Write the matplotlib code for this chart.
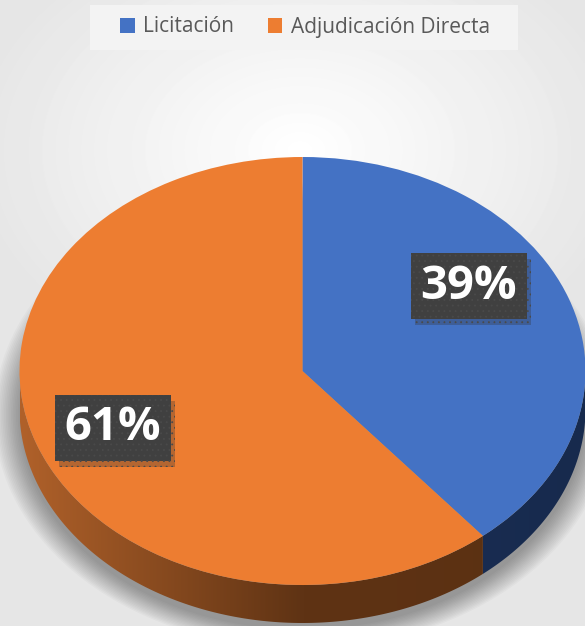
import matplotlib.pyplot as plt
import numpy as np
from matplotlib.patches import Polygon, Ellipse, Rectangle
from matplotlib.colors import LinearSegmentedColormap
import matplotlib.patheffects as pe

# datos
categorias = ['Licitación', 'Adjudicación Directa']
porcentajes = [39, 61]
etiquetas = ['39%', '61%']
colores = ['#4472C4', '#ED7D31']
# color del canto: izquierda -> centro -> derecha
colores_lado = [['#24406F', '#1B2F57', '#172A4D'],
                ['#B0612A', '#5F3314', '#5A3012']]

plt.rcParams['hatch.linewidth'] = 0.6

W, H = 585, 626
cx, cy = 302.5, 371      # centro de la tapa en pixeles (desde arriba)
rx, ry = 283, 214        # semiejes de la elipse
prof = 38 / ry           # espesor del pastel

fig = plt.figure(figsize=(W / 100, H / 100), dpi=100)
ax = fig.add_axes([0, 0, 1, 1])
x0, x1 = -cx / rx, (W - cx) / rx
y0, y1 = -(H - cy) / ry, cy / ry

# fondo gris claro con degradado radial
yy, xx = np.mgrid[0:H, 0:W]
d = np.hypot(xx - 300, (yy - 150) * 1.4) / 330
fondo = 1.0 - 0.10 * np.clip(d, 0, 1)
ax.imshow(fondo, cmap='gray', vmin=0, vmax=1, extent=(x0, x1, y0, y1),
          aspect='auto', zorder=0, interpolation='bilinear')

# sombra difusa debajo del pastel
for s in np.linspace(1.09, 1.0, 16):
    ax.add_patch(Ellipse((0.0, -prof - 0.03), 2 * s, 2 * s,
                         color='black', alpha=0.022, lw=0, zorder=1))

# tapa del pastel
wedges, _ = ax.pie(porcentajes, colors=colores, startangle=90, counterclock=False,
                   wedgeprops=dict(linewidth=0, zorder=4))

# canto (parte visible de cada porcion)
for w, cl in zip(wedges, colores_lado):
    a = np.radians(np.linspace(w.theta1, w.theta2, 600))
    a = a[np.sin(a) < 0]
    if len(a) == 0:
        continue
    top = np.column_stack([np.cos(a), np.sin(a)])
    bot = np.column_stack([np.cos(a[::-1]), np.sin(a[::-1]) - prof])
    poly = Polygon(np.vstack([top, bot]), closed=True, fc='none', ec='none', zorder=3)
    ax.add_patch(poly)
    cmap = LinearSegmentedColormap.from_list('lado', cl)
    grad = np.linspace(0, 1, 256)[None, :]
    im = ax.imshow(grad, cmap=cmap, extent=(-1, 1, -1 - prof, 0), aspect='auto',
                   zorder=3, interpolation='bilinear')
    im.set_clip_path(poly)

ax.set_aspect('auto')
ax.set_xlim(x0, x1)
ax.set_ylim(y0, y1)
ax.axis('off')

# etiquetas de datos
pos_etiquetas = [(469, 286), (113, 428)]
for txt, (px, py) in zip(etiquetas, pos_etiquetas):
    t = fig.text(px / W, 1 - py / H, txt, ha='center', va='center', color='white',
                 fontsize=34, fontweight='bold', family=['Open Sans', 'DejaVu Sans'],
                 zorder=6,
                 bbox=dict(boxstyle='square,pad=0.2', fc='#404040', ec='#4A4A4A',
                           lw=0, hatch='...'))
    t.get_bbox_patch().set_path_effects(
        [pe.SimplePatchShadow(offset=(3, -4), alpha=0.3, shadow_rgbFace='#333333'),
         pe.Normal()])

# leyenda con fondo propio
fig.patches.append(Rectangle((90 / W, 1 - 50 / H), 428 / W, 45 / H,
                             transform=fig.transFigure, fc='#F3F3F3', lw=0, zorder=5))
leg = fig.legend(wedges, categorias, loc='center', ncol=2,
                 bbox_to_anchor=(305 / W, 1 - 27 / H), frameon=False,
                 prop=dict(family=['Open Sans', 'DejaVu Sans'], size=15),
                 handlelength=0.7, handleheight=0.7, handletextpad=0.4,
                 columnspacing=1.6)
for t in leg.get_texts():
    t.set_color('#595959')

fig.savefig('out.png', dpi=100)
